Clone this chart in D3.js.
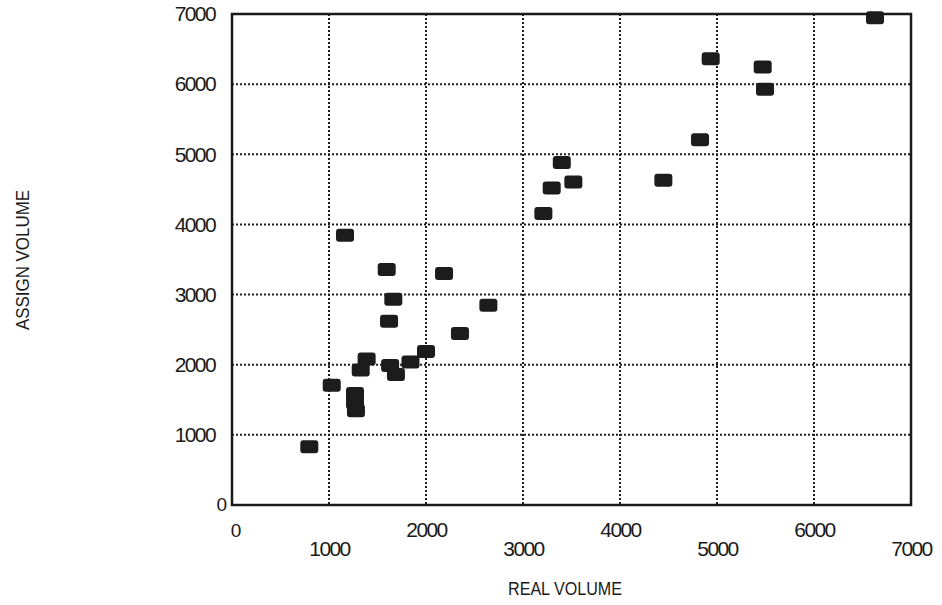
<!DOCTYPE html>
<html>
<head>
<meta charset="utf-8">
<script src="https://cdn.jsdelivr.net/npm/d3@7"></script>
<style>
  body { margin: 0; background: #fff; }
  text { font-family: "Liberation Sans", Arial, sans-serif; fill: #1a1a1a; }
</style>
</head>
<body>
<script>
// Chart data
let realVolume   = [797, 1028, 1268, 1268, 1278, 1327, 1388, 1165, 1595, 1663, 1619, 1630, 1690, 1840,
                    2000, 2186, 2350, 2643, 3210, 3296, 3400, 3519, 4447, 4825, 4935, 5471, 5495, 6629];
let assignVolume = [830, 1709, 1590, 1460, 1343, 1923, 2080, 3846, 3357, 2934, 2621, 1990, 1860, 2040,
                    2190, 3300, 2446, 2849, 4155, 4520, 4882, 4605, 4630, 5209, 6362, 6244, 5926, 6947];
let tickValues = [0, 1000, 2000, 3000, 4000, 5000, 6000, 7000];

let svgWidth = 942
let svgHeight = 605

var margin = { top: 14, right: 31, bottom: 100, left: 232 };

let width = svgWidth - margin.left - margin.right;
let height = svgHeight - margin.top - margin.bottom;

let svg = d3.select("body")
  .append("svg")
  .attr("width", svgWidth)
  .attr("height", svgHeight);

let chartGroup = svg.append("g")
  .attr("transform", `translate(${margin.left}, ${margin.top})`);

let x = d3.scaleLinear().domain([0, 7000]).range([0, width]);
let y = d3.scaleLinear().domain([0, 7000]).range([height, 0]);

// dotted grid
let inner = tickValues.slice(1, -1);
chartGroup.selectAll(".vgrid")
  .data(inner).enter().append("line")
  .attr("x1", d => x(d)).attr("x2", d => x(d))
  .attr("y1", 0).attr("y2", height)
  .attr("stroke", "#1e1e1e").attr("stroke-width", 2)
  .attr("stroke-dasharray", "2,2");

chartGroup.selectAll(".hgrid")
  .data(inner).enter().append("line")
  .attr("y1", d => y(d)).attr("y2", d => y(d))
  .attr("x1", 0).attr("x2", width)
  .attr("stroke", "#1e1e1e").attr("stroke-width", 2)
  .attr("stroke-dasharray", "2,2");

// frame
chartGroup.append("rect")
  .attr("width", width).attr("height", height)
  .attr("fill", "none").attr("stroke", "#1a1a1a").attr("stroke-width", 2.5);

// axes (labels only, frame drawn above)
let fmt = d3.format("d");
let leftAxis = d3.axisLeft(y).tickValues(tickValues.slice(1)).tickFormat(fmt).tickSize(0).tickPadding(17);
let yAx = chartGroup.append("g").call(leftAxis);
yAx.select(".domain").remove();
yAx.selectAll("text").attr("font-size", 21).attr("letter-spacing", -1.6).attr("fill", "#1a1a1a");

let bottomAxis = d3.axisBottom(x).tickValues(tickValues.slice(1)).tickFormat(fmt).tickSize(0);
let xAx = chartGroup.append("g")
  .attr("transform", `translate(0, ${height})`)
  .call(bottomAxis);
xAx.select(".domain").remove();
xAx.selectAll("text")
  .attr("font-size", 21).attr("letter-spacing", -1.6).attr("fill", "#1a1a1a")
  .attr("dy", null)
  .attr("y", (d, i) => i % 2 === 0 ? 51 : 32);

// the two zeros at the corner
chartGroup.append("text")
  .attr("x", -5).attr("y", height + 6)
  .attr("text-anchor", "end").attr("font-size", 19)
  .text("0");
chartGroup.append("text")
  .attr("x", x(0) + 4).attr("y", height + 32)
  .attr("text-anchor", "middle").attr("font-size", 19)
  .text("0");

// points: filled rounded blocks
let points = realVolume.map((v, i) => ({ real: v, assign: assignVolume[i] }));
chartGroup.selectAll(".pt")
  .data(points).enter().append("rect")
  .attr("x", d => x(d.real) - 9)
  .attr("y", d => y(d.assign) - 6.5)
  .attr("width", 18).attr("height", 13)
  .attr("rx", 3)
  .attr("fill", "#1c1c1c");

// axis titles
svg.append("text")
  .attr("x", 565).attr("y", 595)
  .attr("text-anchor", "middle")
  .attr("font-size", 19)
  .attr("textLength", 114).attr("lengthAdjust", "spacingAndGlyphs")
  .text("REAL VOLUME");

svg.append("text")
  .attr("transform", "translate(29, 260) rotate(-90)")
  .attr("text-anchor", "middle")
  .attr("font-size", 19)
  .attr("textLength", 140).attr("lengthAdjust", "spacingAndGlyphs")
  .text("ASSIGN VOLUME");
</script>
</body>
</html>
